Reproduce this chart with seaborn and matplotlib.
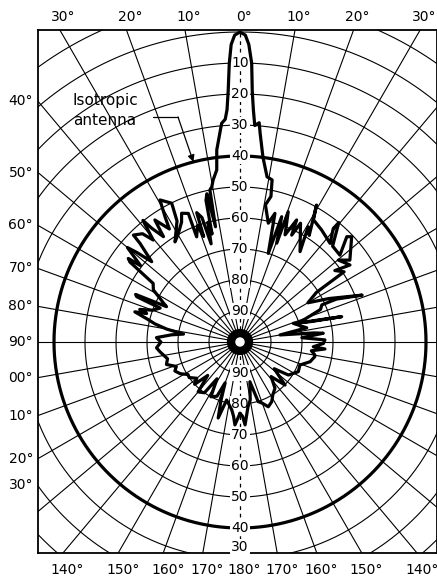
import numpy as np
import pandas as pd
import matplotlib
matplotlib.use("Agg")
import matplotlib.pyplot as plt
import seaborn as sns

# Antenna radiation pattern, in drawing order
# angle: degrees from boresight, clockwise; level: dB down (0 = peak)
pattern_angle = [
    # rear left
    -180, -178, -176.5, -175, -173, -170, -167, -164, -162, -160,
    -157, -152, -148, -145, -140, -136, -133, -130, -125, -122,
    -118, -114, -111, -107, -103, -101, -97, -94, -90, -87,
    # left side
    -84, -82, -80, -78, -76, -74, -73, -72, -70, -67,
    -66.3, -65.5, -64.3, -63, -61.4, -59, -56, -54, -53.2,
    # left side lobes
    -52.5, -50, -49, -47.7, -45.4, -44.9, -42, -40.4, -38.6, -37.8,
    -36, -34.9, -32, -30.9, -29.4, -26.2, -27.5, -33, -30, -26,
    -24.4, -21.9, -22.4, -20, -19, -18.5, -17, -16.4, -15, -14.5,
    -13.5, -12.6, -12, -11.2, -10.3, -9.4, -7.7,
    # main lobe
    -6.9, -4.8, -3.8, -3.2, -2.7, -2.2, -1.7, -1, 0, 1,
    1.7, 2.4, 2.8, 3.3, 3.9, 5, 5.5, 7.1, 9.3, 11.2,
    # right side lobes
    12, 10.5, 13.4, 15.2, 17.7, 18.4, 20.4, 20.3, 22.8, 24.9,
    25.8, 27, 33.6, 30.6, 33, 29.2, 31, 36.1, 42.4, 39.4,
    39.6, 44, 49, 45.4, 46.7, 53.3, 50.2, 55, 53, 56, 57,
    # right side
    60, 64, 69, 66, 65.6, 68, 72, 76, 74, 70.7,
    78, 80, 83, 84, 86, 88.6, 91,
    # rear right
    93.7, 94.7, 97, 99.8, 101, 105.7, 111, 117, 124.3, 128,
    133.7, 138, 142.9, 148, 152, 156.4, 160, 163, 166, 170,
    173, 176.5, 178, 180]
pattern_level = [
    77, 75, 73.2, 76, 78, 79.5, 80.8, 74.5, 80, 86,
    81, 80, 86, 80, 79, 85, 80, 81.8, 80, 80.2,
    78.2, 77, 78, 75.2, 76, 75.4, 74, 73, 74.5, 73,
    77.8, 81.6, 76, 72, 69, 64.7, 68.5, 66, 70, 72,
    63.6, 63, 73.7, 72.3, 70.6, 67.4, 66.2, 56.1, 55,
    59.6, 52.6, 56.1, 61.5, 54.7, 51.3, 53, 56.8, 49.8, 53.6,
    58, 52, 57, 52.9, 47.4, 50.1, 56, 61.5, 60, 57,
    54.4, 55.3, 63.3, 60, 64, 56, 58, 67, 60, 64,
    53, 51, 62, 50, 49.1, 47, 44,
    37.6, 29.2, 28, 25, 19, 10, 4, 1, 0, 1,
    4, 10, 19, 25, 30, 29, 32.3, 40, 46, 46.7,
    52, 55, 60.6, 57, 70, 57.4, 66, 55.2, 62.5, 56.6,
    61.7, 57, 65, 56.8, 59, 49.4, 54, 55.3, 56.9, 52.6,
    50, 57, 57.3, 51.6, 50.5, 55.8, 58.7, 56.7, 61.7, 59.5, 70.6,
    74.7, 68, 57.8, 66, 71, 72, 80, 66.2, 76, 81.8,
    78, 86.9, 76, 73, 80, 72.6, 73.1,
    76.3, 72.5, 76.8, 75.5, 75.4, 76.5, 79.3, 78.9, 81.1, 86,
    79.9, 85, 81.3, 80, 78.2, 77.2, 79, 79.9, 86.8, 81,
    78.9, 73.2, 76, 77]

ring_levels = list(range(90, -40, -10))
spoke_angles = list(range(0, 360, 10))
isotropic_level = 40

top_axis_levels = [10, 20, 30, 40, 50, 60, 70, 80, 90]
bottom_axis_levels = [90, 80, 70, 60, 50, 40, 30]

top_label_angles = [-30, -20, -10, 0, 10, 20, 30]
top_labels = ["30°", "20°", "10°", "0°", "10°", "20°", "30°"]
left_label_angles = [40, 50, 60, 70, 80, 90, 100, 110, 120, 130]
left_labels = ["40°", "50°", "60°", "70°", "80°", "90°", "00°", "10°", "20°", "30°"]
bottom_label_angles = [-140, -150, -160, -170, 180, 170, 160, 150, 140]
bottom_labels = ["140°", "150°", "160°", "170°", "180°", "170°", "160°", "150°", "140°"]

sns.set_style("white")
plt.rcParams['font.family'] = ['DejaVu Sans']
plt.rcParams['text.color'] = 'black'

W, H = 437, 576
fig = plt.figure(figsize=(W / 100, H / 100), dpi=100)
# frame in pixels and the pattern centre
fl, fr, ft, fb = 38, 437, 30, 553
cx, cy, px = 240, 342, 3.1
ax = fig.add_axes([fl / W, 1 - fb / H, (fr - fl) / W, (fb - ft) / H])
x0, x1 = (fl - cx) / px, (fr - cx) / px
y0, y1 = (cy - fb) / px, (cy - ft) / px
ax.set_xlim(x0, x1)
ax.set_ylim(y0, y1)
ax.set_xticks([])
ax.set_yticks([])
for s in ax.spines.values():
    s.set_color("black")
    s.set_linewidth(1.3)

# grid rings
t = np.linspace(0, 2 * np.pi, 721)
for lv in ring_levels:
    r = 100 - lv
    ax.plot(r * np.sin(t), r * np.cos(t), color="black",
            lw=2.3 if lv == isotropic_level else 0.8, zorder=1)

# spokes
for a in spoke_angles:
    if a % 180 == 0:
        continue
    th = np.radians(a)
    ax.plot([0, 250 * np.sin(th)], [0, 250 * np.cos(th)], color="black", lw=0.8, zorder=1)
ax.plot([0, 0], [-250, 250], color="black", lw=0.9, ls=(0, (3, 3)), zorder=1)

ax.add_patch(plt.Circle((0, 0), 4.0, color="black", zorder=2))
ax.add_patch(plt.Circle((0, 0), 1.3, color="white", zorder=5))

# level labels along the 0/180 axis
box = dict(fc="white", ec="none", pad=0.6)
for lv in top_axis_levels:
    ax.text(0, 100 - lv, str(lv), ha="center", va="center", fontsize=10, zorder=3, bbox=box)
for lv in bottom_axis_levels:
    ax.text(0, -min(100 - lv, 66), str(lv), ha="center", va="center", fontsize=10, zorder=3, bbox=box)

# pattern
th = np.radians(pattern_angle)
rr = 100 - np.array(pattern_level)
df = pd.DataFrame({"x": rr * np.sin(th), "y": rr * np.cos(th)})
sns.lineplot(data=df, x="x", y="y", sort=False, estimator=None, color="black",
             lw=2.3, ax=ax, zorder=4)
ax.set_xlabel("")
ax.set_ylabel("")

# angle labels around the frame
for a, lab in zip(top_label_angles, top_labels):
    ax.text(y1 * np.tan(np.radians(a)) + 1.2, (cy - 17) / px, lab,
            ha="center", va="center", fontsize=10)
for a, lab in zip(left_label_angles, left_labels):
    yy = -x0 * np.cos(np.radians(a)) / np.sin(np.radians(a))
    if a == 130:
        yy = (cy - 485) / px
    ax.text((33 - cx) / px, yy, lab, ha="right", va="center", fontsize=10)
for a, lab in zip(bottom_label_angles, bottom_labels):
    ax.text(y0 * np.tan(np.radians(a)) + 1.5, (cy - 570) / px, lab,
            ha="center", va="center", fontsize=10)

# isotropic antenna callout
ax.text((73 - cx) / px, (cy - 101) / px, "Isotropic", ha="left", va="center", fontsize=11)
ax.text((73 - cx) / px, (cy - 121) / px, "antenna", ha="left", va="center", fontsize=11)
elbow = ((178 - cx) / px, (cy - 117) / px)
ax.plot([(153 - cx) / px, elbow[0]], [elbow[1], elbow[1]], color="black", lw=0.9)
ta = np.radians(-14.5)
tr = 100 - isotropic_level
ax.annotate("", xy=(tr * np.sin(ta), tr * np.cos(ta)), xytext=elbow,
            arrowprops=dict(arrowstyle="-|>", color="black", lw=0.9,
                            mutation_scale=10, shrinkA=0, shrinkB=0))

fig.savefig("out.png", dpi=100)
